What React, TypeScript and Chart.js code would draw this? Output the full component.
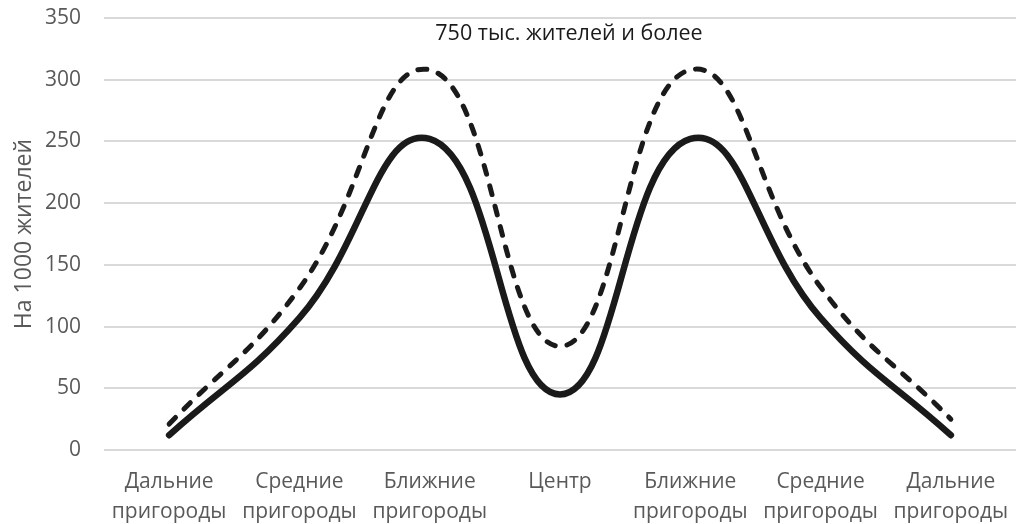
import React, { useEffect, useRef } from "react";
import { Chart, registerables } from "chart.js";

Chart.register(...registerables);

const categories: string[][] = [
  ["Дальние", "пригороды"],
  ["Средние", "пригороды"],
  ["Ближние", "пригороды"],
  ["Центр"],
  ["Ближние", "пригороды"],
  ["Средние", "пригороды"],
  ["Дальние", "пригороды"],
];
const solidValues = [12, 107, 252, 45, 252, 107, 12];
const dashedValues = [21, 131, 308, 84, 308, 132, 25];
const yMin = 0;
const yMax = 350;
const yStep = 50;
const chartTitle = "750 тыс. жителей и более";
const yAxisTitle = "На 1000 жителей";

const FONT = "'Open Sans', 'Noto Sans', sans-serif";

const innerTitle = {
  id: "innerTitle",
  afterDraw(chart: any) {
    const { ctx, chartArea } = chart;
    ctx.save();
    ctx.font = `21.5px ${FONT}`;
    ctx.fillStyle = "#1a1a1a";
    ctx.textAlign = "center";
    ctx.textBaseline = "middle";
    ctx.fillText(chartTitle, (chartArea.left + chartArea.right) / 2 + 9, chartArea.top + 16);
    ctx.restore();
  },
};

export default function App() {
  const ref = useRef<HTMLCanvasElement | null>(null);
  useEffect(() => {
    if (!ref.current) return;
    const chart = new Chart(ref.current, {
      type: "line",
      data: {
        labels: categories,
        datasets: [
          {
            data: dashedValues,
            borderColor: "#1a1a1a",
            borderWidth: 5,
            borderDash: [9, 12],
            borderCapStyle: "round",
            tension: 0.45,
            pointRadius: 0,
            fill: false,
          },
          {
            data: solidValues,
            borderColor: "#1a1a1a",
            borderWidth: 6.5,
            borderCapStyle: "round",
            tension: 0.45,
            pointRadius: 0,
            fill: false,
          },
        ],
      },
      options: {
        animation: false,
        responsive: true,
        maintainAspectRatio: false,
        layout: { padding: { top: 18, right: 2, left: 0, bottom: 0 } },
        plugins: {
          legend: { display: false },
          tooltip: { enabled: false },
          title: { display: false },
        },
        scales: {
          x: {
            offset: true,
            grid: { display: false, drawTicks: false },
            border: { display: false },
            ticks: {
              color: "#595959",
              font: { family: FONT, size: 21, lineHeight: 1.43 },
              padding: 17,
              maxRotation: 0,
              autoSkip: false,
            },
            afterFit: (s: any) => {
              s.height = 74;
              s.paddingLeft = 0;
              s.paddingRight = 0;
            },
          },
          y: {
            min: yMin,
            max: yMax,
            grid: { color: "#d9d9d9", lineWidth: 2, drawTicks: false },
            border: { display: false },
            ticks: {
              stepSize: yStep,
              color: "#595959",
              font: { family: FONT, size: 21 },
              padding: 23,
            },
            title: {
              display: true,
              text: yAxisTitle,
              color: "#595959",
              font: { family: FONT, size: 23 },
              padding: { top: 11, bottom: 0 },
            },
            afterFit: (s: any) => {
              s.width = 104;
              s.paddingTop = 0;
              s.paddingBottom = 0;
            },
          },
        },
      },
      plugins: [innerTitle],
    });
    return () => chart.destroy();
  }, []);
  return (
    <div style={{ position: "fixed", left: 0, top: 0, width: 1018, height: 524, background: "#fff" }}>
      <canvas ref={ref} />
    </div>
  );
}
